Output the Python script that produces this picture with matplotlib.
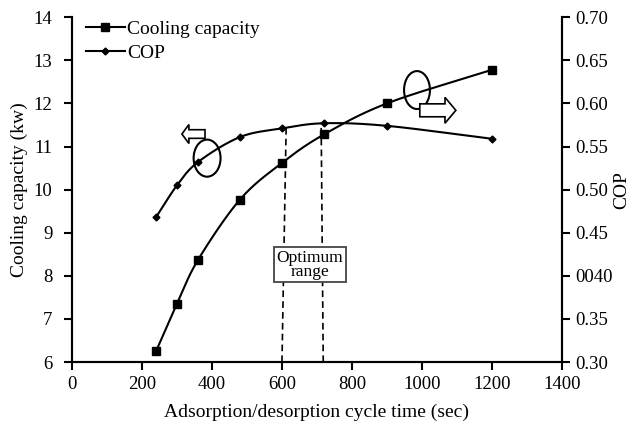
import numpy as np
import matplotlib
matplotlib.use("Agg")
import matplotlib.pyplot as plt
from matplotlib.patches import Ellipse, FancyArrow

plt.rcParams['font.family'] = ['Liberation Serif', 'DejaVu Serif']

# data
cycle_time = [240, 300, 360, 480, 600, 720, 900, 1200]
cooling_capacity = [6.25, 7.35, 8.37, 9.77, 10.62, 11.28, 12.0, 12.78]
cop = [0.468, 0.505, 0.532, 0.561, 0.571, 0.577, 0.574, 0.559]
cop_ticks = [0.30, 0.35, 0.40, 0.45, 0.50, 0.55, 0.60, 0.65, 0.70]
cop_ticklabels = ['0.30', '0.35', '0040', '0.45', '0.50', '0.55', '0.60', '0.65', '0.70']


def smooth(x, y, n=30):
    # catmull-rom curve through the points, only for drawing the line
    x = np.asarray(x, float)
    y = np.asarray(y, float)
    px = np.concatenate([[2 * x[0] - x[1]], x, [2 * x[-1] - x[-2]]])
    py = np.concatenate([[2 * y[0] - y[1]], y, [2 * y[-1] - y[-2]]])
    xs, ys = [], []
    t = np.linspace(0, 1, n)
    for i in range(1, len(px) - 2):
        for p, out in ((px, xs), (py, ys)):
            p0, p1, p2, p3 = p[i - 1], p[i], p[i + 1], p[i + 2]
            out.extend(0.5 * (2 * p1 + (-p0 + p2) * t
                              + (2 * p0 - 5 * p1 + 4 * p2 - p3) * t ** 2
                              + (-p0 + 3 * p1 - 3 * p2 + p3) * t ** 3))
    return xs, ys


fig = plt.figure(figsize=(6.32, 4.30), dpi=100)
ax = fig.add_axes([0.114, 0.158, 0.775, 0.802])
ax2 = ax.twinx()

sx, sy = smooth(cycle_time, cooling_capacity)
ax.plot(sx, sy, color='black', lw=1.5)
ax.plot(cycle_time, cooling_capacity, 's', color='black', ms=6, ls='none')
cx, cy = smooth(cycle_time, cop)
ax2.plot(cx, cy, color='black', lw=1.5)
ax2.plot(cycle_time, cop, 'D', color='black', ms=3.5, ls='none')

# legend handles
h1, = ax.plot([], [], 's-', color='black', ms=6, lw=1.5, label='Cooling capacity')
h2, = ax.plot([], [], 'D-', color='black', ms=3.5, lw=1.5, label='COP')
ax.legend(handles=[h1, h2], loc='upper left', bbox_to_anchor=(0.0, 1.03),
          frameon=False, fontsize=14, handlelength=2.0, handletextpad=0.15,
          labelspacing=0.3, borderaxespad=0.3)

# optimum range
ax.plot([600, 612], [6, 11.45], 'k--', lw=1.2, dashes=(4, 2.5))
ax.plot([718, 712], [6, 11.55], 'k--', lw=1.2, dashes=(4, 2.5))
ax.text(679, 8.26, 'Optimum\nrange', ha='center', va='center', fontsize=12.5,
        linespacing=0.85,
        bbox=dict(boxstyle='square,pad=0.15', fc='white', ec='#444444', lw=1.3))

# ellipses and arrows
ax.add_patch(Ellipse((386, 10.73), 77, 0.86, fill=False, ec='black', lw=1.5, zorder=3))
ax.add_patch(FancyArrow(380, 11.29, -66, 0, width=0.2, head_width=0.44,
                        head_length=20, length_includes_head=True,
                        fc='white', ec='black', lw=1.2, zorder=4))
ax.add_patch(Ellipse((986, 12.31), 74, 0.88, fill=False, ec='black', lw=1.5, zorder=3))
ax.add_patch(FancyArrow(994, 11.84, 103, 0, width=0.3, head_width=0.6,
                        head_length=31, length_includes_head=True,
                        fc='white', ec='black', lw=1.2, zorder=4))

ax.set_xlim(0, 1400)
ax.set_ylim(6, 14)
ax2.set_ylim(0.30, 0.70)
ax.set_xticks(range(0, 1401, 200))
ax.set_yticks(range(6, 15))
ax2.set_yticks(cop_ticks)
ax2.set_yticklabels(cop_ticklabels)

for a in (ax, ax2):
    a.spines['top'].set_visible(False)
    for s in a.spines.values():
        s.set_linewidth(1.5)
    a.tick_params(direction='out', length=6, width=1.5, labelsize=13.5, pad=4)
ax.tick_params(axis='y', pad=8)

ax.set_xlabel('Adsorption/desorption cycle time (sec)', fontsize=14, labelpad=8)
ax.set_ylabel('Cooling capacity (kw)', fontsize=14, labelpad=4)
ax2.set_ylabel('COP', fontsize=14, labelpad=0)

fig.savefig('out.png', dpi=100)
